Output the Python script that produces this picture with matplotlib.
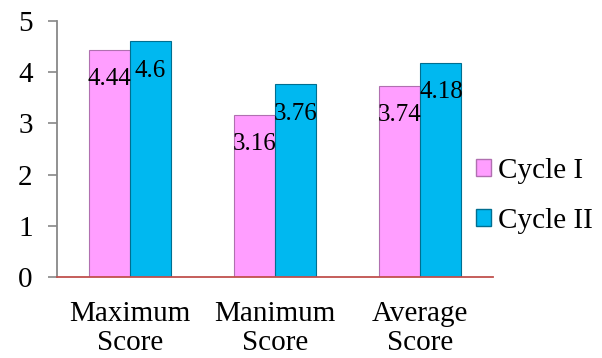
import numpy as np
import matplotlib

matplotlib.use('Agg')

import matplotlib.pyplot as plt
from matplotlib.patches import Patch

categories = ['Maximum\nScore', 'Manimum\nScore', 'Average\nScore']
cycle1 = [4.44, 3.16, 3.74]
cycle2 = [4.6, 3.76, 4.18]
series_names = ['Cycle I', 'Cycle II']

pink = '#FF9EFF'
pink_edge = '#B070B0'
cyan = '#00B8F0'
cyan_edge = '#006E90'

plt.rcParams['font.family'] = ['Liberation Serif', 'DejaVu Serif']

fig = plt.figure(figsize=(6.02, 3.58), dpi=100)
ax = fig.add_axes([57/602, 1-277/358, (493-57)/602, (277-21)/358])

x = np.arange(len(categories))
w = 0.283
b1 = ax.bar(x - w/2, cycle1, w, color=pink, edgecolor=pink_edge, linewidth=0.8)
b2 = ax.bar(x + w/2, cycle2, w, color=cyan, edgecolor=cyan_edge, linewidth=0.8)

for bars, vals in [(b1, cycle1), (b2, cycle2)]:
    for r, v in zip(bars, vals):
        ax.annotate('%g' % v, (r.get_x() + r.get_width()/2, v),
                    xytext=(0, -21), textcoords='offset points',
                    ha='center', va='center', fontsize=18, color='black')

ax.set_xlim(-0.5, 2.5)
ax.set_ylim(0, 5)
ax.set_yticks([0, 1, 2, 3, 4, 5])
ax.set_xticks(x)
ax.set_xticklabels(categories, fontsize=21, linespacing=1.15)
ax.tick_params(axis='x', length=0, pad=17)
ax.tick_params(axis='y', labelsize=21, length=6.5, width=1.2, color='#888888', pad=11)

for s in ['top', 'right']:
    ax.spines[s].set_visible(False)
ax.spines['left'].set_color('#888888')
ax.spines['left'].set_linewidth(1.3)
ax.spines['bottom'].set_color('#C0504D')
ax.spines['bottom'].set_linewidth(1.3)
ax.spines['bottom'].set_zorder(5)

handles = [Patch(facecolor=pink, edgecolor=pink_edge),
           Patch(facecolor=cyan, edgecolor=cyan_edge)]
fig.legend(handles, series_names, loc='center left',
           bbox_to_anchor=(476/602, 1-196/358), frameon=False,
           fontsize=21, borderpad=0, borderaxespad=0,
           handlelength=0.52, handleheight=0.52, handletextpad=0.22,
           labelspacing=0.8)

plt.savefig('out.png', dpi=100)
plt.close()
